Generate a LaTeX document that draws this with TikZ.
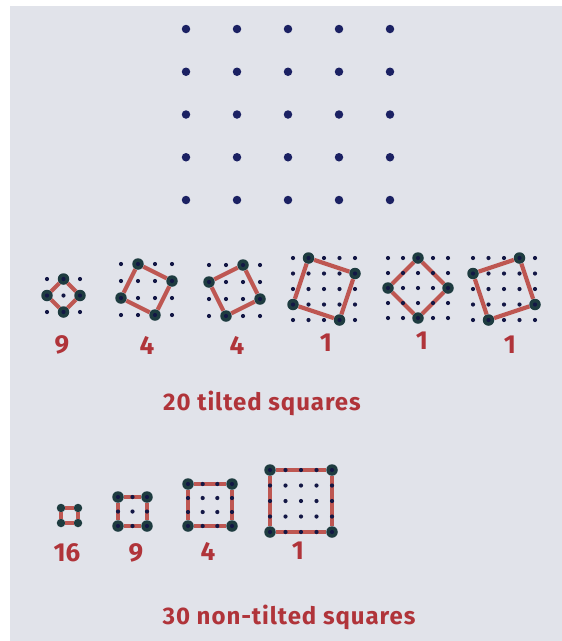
\documentclass[tikz,border=0pt]{standalone}
\usepackage{fontspec}
\setmainfont{Fira Sans}
\usepackage{xcolor}

\definecolor{inknavy}{HTML}{1B2163}
\definecolor{inkred}{HTML}{BE5752}
\definecolor{inklabel}{HTML}{B0343A}
\definecolor{inkteal}{HTML}{1E3C40}
\definecolor{paper}{HTML}{E1E3EA}

\tikzset{
  griddot/.style={circle, fill=inknavy, inner sep=0pt, minimum size=8.5pt},
  smalldot/.style={circle, fill=inknavy!70!black, inner sep=0pt, minimum size=4.2pt},
  cornerblob/.style={circle, fill=inkteal, inner sep=0pt, minimum size=11.5pt},
  sqedge/.style={draw=inkred, line width=4.2pt},
  count/.style={text=inklabel, font=\fontsize{26}{28}\selectfont\bfseries},
  caption/.style={text=inklabel, font=\fontsize{24}{26}\selectfont\bfseries\addfontfeature{LetterSpace=4.0}},
}

\begin{document}
\begin{tikzpicture}[x=1pt, y=-1pt]

\useasboundingbox (0,0) rectangle (562,641);
% Paper
\fill[white] (0,0) rectangle (562,641);
\fill[paper] (10,6) rectangle (562,641);

% Big 5x5 grid
\foreach \i in {0,...,4}
  \foreach \j in {0,...,4}
    \node[griddot] (p-\i-\j) at (186+51*\i, 29+42.75*\j) {};

% Tilted square 1: (1,1) in a 3x3 grid
\begin{scope}[shift={(47,279)}]
  \node[cornerblob] (t1a) at (16.5,0) {};
  \node[cornerblob] (t1b) at (33,16.5) {};
  \node[cornerblob] (t1c) at (16.5,33) {};
  \node[cornerblob] (t1d) at (0,16.5) {};
  \draw[sqedge] (t1a) -- (t1b) -- (t1c) -- (t1d) -- (t1a);
  \foreach \i in {0,1,2}
    \foreach \j in {0,1,2}
      \node[smalldot] (t1-\i-\j) at (16.5*\i, 16.5*\j) {};
\end{scope}
\node[count] (n1) at (62,345) {9};

% Tilted square 2: (2,1) in a 4x4 grid
\begin{scope}[shift={(121,264)}]
  \node[cornerblob] (t2a) at (17,0) {};
  \node[cornerblob] (t2b) at (51,17) {};
  \node[cornerblob] (t2c) at (34,51) {};
  \node[cornerblob] (t2d) at (0,34) {};
  \draw[sqedge] (t2a) -- (t2b) -- (t2c) -- (t2d) -- (t2a);
  \foreach \i in {0,...,3}
    \foreach \j in {0,...,3}
      \node[smalldot] (t2-\i-\j) at (17*\i, 17*\j) {};
\end{scope}
\node[count] (n2) at (147,345) {4};

% Tilted square 3: (1,2) in a 4x4 grid
\begin{scope}[shift={(209,265)}]
  \node[cornerblob] (t3a) at (34,0) {};
  \node[cornerblob] (t3b) at (51,34) {};
  \node[cornerblob] (t3c) at (17,51) {};
  \node[cornerblob] (t3d) at (0,17) {};
  \draw[sqedge] (t3a) -- (t3b) -- (t3c) -- (t3d) -- (t3a);
  \foreach \i in {0,...,3}
    \foreach \j in {0,...,3}
      \node[smalldot] (t3-\i-\j) at (17*\i, 17*\j) {};
\end{scope}
\node[count] (n3) at (237,345) {4};

% Tilted square 4: (3,1) in a 5x5 grid
\begin{scope}[shift={(293,258)}]
  \node[cornerblob] (t4a) at (15.5,0) {};
  \node[cornerblob] (t4b) at (62,15.5) {};
  \node[cornerblob] (t4c) at (46.5,62) {};
  \node[cornerblob] (t4d) at (0,46.5) {};
  \draw[sqedge] (t4a) -- (t4b) -- (t4c) -- (t4d) -- (t4a);
  \foreach \i in {0,...,4}
    \foreach \j in {0,...,4}
      \node[smalldot] (t4-\i-\j) at (15.5*\i, 15.5*\j) {};
\end{scope}
\node[count] (n4) at (326,343) {1};

% Tilted square 5: (2,2) in a 5x5 grid
\begin{scope}[shift={(388,258)}]
  \node[cornerblob] (t5a) at (30,0) {};
  \node[cornerblob] (t5b) at (60,30) {};
  \node[cornerblob] (t5c) at (30,60) {};
  \node[cornerblob] (t5d) at (0,30) {};
  \draw[sqedge] (t5a) -- (t5b) -- (t5c) -- (t5d) -- (t5a);
  \foreach \i in {0,...,4}
    \foreach \j in {0,...,4}
      \node[smalldot] (t5-\i-\j) at (15*\i, 15*\j) {};
\end{scope}
\node[count] (n5) at (422,341) {1};

% Tilted square 6: (1,3) in a 5x5 grid
\begin{scope}[shift={(473,258)}]
  \node[cornerblob] (t6a) at (46.5,0) {};
  \node[cornerblob] (t6b) at (62,46.5) {};
  \node[cornerblob] (t6c) at (15.5,62) {};
  \node[cornerblob] (t6d) at (0,15.5) {};
  \draw[sqedge] (t6a) -- (t6b) -- (t6c) -- (t6d) -- (t6a);
  \foreach \i in {0,...,4}
    \foreach \j in {0,...,4}
      \node[smalldot] (t6-\i-\j) at (15.5*\i, 15.5*\j) {};
\end{scope}
\node[count] (n6) at (510,345) {1};

\node[caption] (tilted) at (262,403) {20 tilted squares};

% Non-tilted square 1: 1x1
\begin{scope}[shift={(61,508)}]
  \node[cornerblob, minimum size=8.5pt] (s1a) at (0,0) {};
  \node[cornerblob, minimum size=8.5pt] (s1b) at (17,0) {};
  \node[cornerblob, minimum size=8.5pt] (s1c) at (17,15) {};
  \node[cornerblob, minimum size=8.5pt] (s1d) at (0,15) {};
  \draw[sqedge] (s1a) -- (s1b) -- (s1c) -- (s1d) -- (s1a);
\end{scope}
\node[count] (m1) at (67,553) {16};

% Non-tilted square 2: 2x2
\begin{scope}[shift={(118,497)}]
  \node[cornerblob] (s2a) at (0,0) {};
  \node[cornerblob] (s2b) at (29,0) {};
  \node[cornerblob] (s2c) at (29,29) {};
  \node[cornerblob] (s2d) at (0,29) {};
  \draw[sqedge] (s2a) -- (s2b) -- (s2c) -- (s2d) -- (s2a);
  \foreach \i in {0,1,2}
    \foreach \j in {0,1,2}
      \node[smalldot] (s2-\i-\j) at (14.5*\i, 14.5*\j) {};
\end{scope}
\node[count] (m2) at (136,553) {9};

% Non-tilted square 3: 3x3
\begin{scope}[shift={(188,484)}]
  \node[cornerblob] (s3a) at (0,0) {};
  \node[cornerblob] (s3b) at (44,0) {};
  \node[cornerblob] (s3c) at (44,42) {};
  \node[cornerblob] (s3d) at (0,42) {};
  \draw[sqedge] (s3a) -- (s3b) -- (s3c) -- (s3d) -- (s3a);
  \foreach \i in {0,...,3}
    \foreach \j in {0,...,3}
      \node[smalldot] (s3-\i-\j) at (44/3*\i, 14*\j) {};
\end{scope}
\node[count] (m3) at (208,551) {4};

% Non-tilted square 4: 4x4
\begin{scope}[shift={(270,470)}]
  \node[cornerblob] (s4a) at (0,0) {};
  \node[cornerblob] (s4b) at (62,0) {};
  \node[cornerblob] (s4c) at (62,62) {};
  \node[cornerblob] (s4d) at (0,62) {};
  \draw[sqedge] (s4a) -- (s4b) -- (s4c) -- (s4d) -- (s4a);
  \foreach \i in {0,...,4}
    \foreach \j in {0,...,4}
      \node[smalldot] (s4-\i-\j) at (15.5*\i, 15.5*\j) {};
\end{scope}
\node[count] (m4) at (298,551) {1};

\node[caption] (nontilted) at (289,617) {30 non-tilted squares};

\end{tikzpicture}
\end{document}
